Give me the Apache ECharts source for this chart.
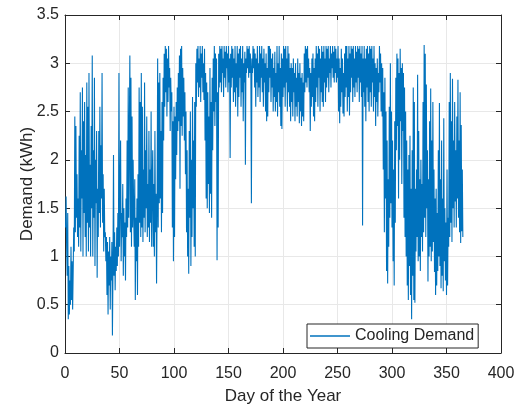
<!DOCTYPE html>
<html>
<head>
<meta charset="utf-8">
<script src="https://cdn.jsdelivr.net/npm/echarts@6/dist/echarts.min.js"></script>
<style>
  html, body { margin: 0; padding: 0; background: #ffffff; }
  #chart { width: 521px; height: 405px; }
</style>
</head>
<body>
<div id="chart"></div>
<script>
// Cooling demand, two samples per day (kWh), starting at day 0.5
const firstDay = 0.5;
const dayStep = 0.5;
const demandKWh = [
  // days 0.5 - 10
  1.30,1.62,1.10,0.80,1.45,0.35,0.90,0.40,0.75,0.50,1.10,0.55,0.95,0.45,0.85,1.30,1.05,2.45,1.25,2.35,
  // days 10.5 - 20
  1.40,1.85,1.20,1.60,1.10,2.25,1.30,2.70,1.05,2.10,1.60,2.75,1.00,2.40,1.45,2.60,1.20,2.05,1.00,2.80,
  // days 20.5 - 30
  1.35,2.55,1.05,2.90,1.30,1.95,1.00,2.35,1.50,3.08,1.00,2.10,1.40,2.85,0.90,2.00,1.55,2.30,0.78,1.70,
  // days 30.5 - 40
  1.20,2.30,1.45,2.55,1.30,2.15,1.60,2.90,1.35,1.85,1.05,1.70,1.20,1.25,0.95,1.20,0.60,1.15,0.40,1.05,
  // days 40.5 - 50
  0.70,1.20,0.45,1.00,0.75,1.15,0.18,0.85,2.05,0.80,1.25,0.65,1.10,0.85,1.30,0.90,1.45,1.00,2.90,1.10,
  // days 50.5 - 60
  1.60,2.20,0.95,1.45,1.20,1.75,0.80,1.50,1.00,1.35,0.75,1.60,1.20,2.20,1.30,2.75,1.40,2.25,3.08,1.25,
  // days 60.5 - 70
  2.85,1.10,2.45,1.30,2.00,1.45,1.10,1.80,0.55,1.40,0.95,1.60,0.60,1.85,1.10,2.75,1.35,2.60,1.20,2.90,
  // days 70.5 - 80
  1.30,2.55,1.15,1.90,1.40,2.80,1.25,2.10,1.50,2.45,1.20,1.75,1.30,2.30,1.15,1.90,1.35,2.50,1.10,1.75,
  // days 80.5 - 90
  2.10,1.10,1.75,1.00,2.30,1.25,1.65,0.72,1.50,3.05,1.30,2.80,1.55,2.90,1.60,2.30,1.25,2.60,1.45,2.85,
  // days 90.5 - 100
  2.20,3.10,2.55,3.18,2.70,3.15,2.45,3.05,2.60,3.18,2.75,2.95,2.30,2.85,2.50,2.70,1.30,2.40,0.95,2.55,
  // days 100.5 - 110
  1.20,2.45,1.80,2.60,2.05,2.75,2.30,2.90,2.40,3.08,1.70,3.15,2.35,3.18,2.25,2.95,2.45,2.85,2.20,2.70,
  // days 110.5 - 120
  1.85,2.50,1.25,2.10,1.00,1.70,0.82,2.30,1.40,2.50,0.90,2.00,1.20,2.65,1.50,2.20,1.10,2.60,1.00,3.00,
  // days 120.5 - 130
  2.55,3.15,2.80,3.18,2.65,3.05,2.75,3.18,2.60,3.10,2.85,3.18,2.70,3.00,2.62,3.15,2.20,2.90,1.60,2.80,
  // days 130.5 - 140
  1.50,2.70,1.75,2.45,1.45,2.95,1.65,2.60,1.40,2.85,2.10,3.05,2.50,3.18,2.35,3.10,2.60,3.05,0.96,2.70,
  // days 140.5 - 150
  1.30,3.10,2.75,3.18,2.80,3.15,2.70,3.18,2.90,3.05,2.65,3.18,2.85,3.12,2.75,3.18,2.95,3.10,2.70,3.18,
  // days 150.5 - 160
  2.80,3.05,2.02,3.10,2.75,3.18,2.85,3.15,2.60,3.05,2.70,3.18,2.55,3.00,2.75,3.18,2.45,3.10,2.65,3.15,
  // days 160.5 - 170
  2.85,3.18,2.55,3.05,2.70,3.18,2.40,3.00,2.80,3.12,1.95,3.05,2.90,3.18,2.95,3.15,2.85,3.18,2.90,3.10,
  // days 170.5 - 180
  2.95,1.55,3.05,2.90,3.18,2.95,3.15,2.75,3.10,2.55,3.05,2.80,3.18,2.65,3.00,2.75,3.18,2.60,3.10,2.85,
  // days 180.5 - 190
  3.18,2.70,3.05,2.55,3.15,2.80,3.00,2.50,3.10,2.40,2.95,2.45,3.18,2.70,3.18,2.85,3.15,2.60,3.05,2.75,
  // days 190.5 - 200
  3.10,2.50,2.95,2.65,3.12,2.50,2.90,2.60,3.18,2.45,3.00,2.70,3.18,2.55,2.95,2.35,3.10,2.32,3.05,2.65,
  // days 200.5 - 210
  3.18,2.75,3.15,2.55,3.18,2.80,3.05,2.50,3.18,2.70,3.10,2.55,2.95,2.40,3.00,2.60,2.95,2.45,3.05,2.70,
  // days 210.5 - 220
  2.90,2.40,3.00,2.55,2.85,2.45,3.05,2.60,2.90,2.38,3.00,2.50,2.85,2.35,2.90,2.45,2.80,2.40,3.10,2.70,
  // days 220.5 - 230
  3.18,2.80,3.15,2.75,3.18,2.85,3.05,2.70,2.95,2.30,2.90,2.55,3.05,2.65,3.10,2.45,2.95,2.40,3.05,2.60,
  // days 230.5 - 240
  3.18,2.75,3.10,2.55,3.18,2.85,3.15,2.50,3.05,2.70,3.18,2.60,3.12,2.55,3.18,2.80,3.05,2.60,3.18,2.75,
  // days 240.5 - 250
  3.15,2.85,3.18,2.70,3.05,2.90,3.18,2.75,3.10,2.95,3.18,2.85,3.12,2.80,3.18,2.90,3.15,2.80,3.05,2.85,
  // days 250.5 - 260
  3.18,2.50,3.05,2.38,2.95,2.55,3.15,2.70,3.05,2.48,2.90,2.45,3.10,2.65,3.18,2.75,3.18,2.50,3.05,2.65,
  // days 260.5 - 270
  3.18,2.46,3.10,2.70,3.18,2.85,3.15,2.60,3.18,2.75,3.05,2.65,3.18,2.80,3.12,2.70,3.18,2.85,3.15,2.60,
  // days 270.5 - 280
  3.18,2.80,3.10,2.65,3.18,1.32,3.05,2.70,3.18,2.55,3.05,2.40,3.15,2.75,3.18,2.60,3.10,2.50,3.18,2.70,
  // days 280.5 - 290
  3.15,2.55,3.18,2.80,3.05,2.50,3.18,2.65,3.00,2.35,2.95,2.60,3.05,2.45,2.90,2.70,3.18,2.80,3.10,2.50,
  // days 290.5 - 300
  3.00,2.45,2.95,1.90,2.70,1.25,2.85,1.60,2.50,0.85,2.20,0.72,1.80,1.10,2.55,1.40,3.00,1.55,2.50,1.30,
  // days 300.5 - 310
  2.20,0.95,1.90,0.70,2.40,1.35,2.85,2.10,3.10,2.35,3.05,1.60,2.90,2.00,3.15,2.40,2.95,1.75,3.00,2.30,
  // days 310.5 - 320
  2.90,1.40,2.75,1.20,2.50,1.00,2.20,0.70,1.90,0.55,2.05,0.90,2.25,0.60,1.70,0.35,2.10,0.80,2.75,0.55,
  // days 320.5 - 330
  2.60,0.52,1.70,1.05,1.90,1.20,2.88,0.95,2.30,1.00,1.80,0.85,2.00,1.20,1.75,1.05,2.60,1.25,3.19,1.40,
  // days 330.5 - 340
  3.10,1.20,2.78,1.50,2.10,0.74,1.80,1.00,2.40,1.10,2.74,0.95,2.20,1.05,2.60,1.15,1.90,0.84,1.60,0.60,
  // days 340.5 - 350
  1.70,0.70,1.45,0.85,2.10,1.00,2.59,0.90,1.80,0.67,2.20,0.80,1.60,0.64,2.43,0.95,1.50,0.75,1.35,0.60,
  // days 350.5 - 360
  1.90,0.70,1.40,1.10,2.60,1.20,2.90,1.35,2.40,1.15,2.84,1.50,2.20,1.30,2.60,1.57,2.10,1.30,2.45,1.60,
  // days 360.5 - 365
  2.83,1.40,2.20,1.25,2.70,1.14,2.36,1.26,1.90,1.20
];

const dayTicks = [0, 50, 100, 150, 200, 250, 300, 350, 400];
const demandTicks = [0, 0.5, 1, 1.5, 2, 2.5, 3, 3.5];

const seriesName = 'Cooling Demand';
const lineColor = '#0072BD';
const axisColor = '#262626';
const gridColor = '#e8e8e8';
const fontFamily = '"Liberation Sans", Arial, Helvetica, sans-serif';

const points = demandKWh.map((v, i) => [firstDay + i * dayStep, v]);

function axisBase(ticks) {
  return {
    type: 'value',
    min: ticks[0],
    max: ticks[ticks.length - 1],
    interval: ticks[1] - ticks[0],
    axisLine: { show: true, onZero: false, lineStyle: { color: axisColor, width: 1 } },
    axisTick: { show: true, inside: true, length: 5, lineStyle: { color: axisColor } }
  };
}

const chart = echarts.init(document.getElementById('chart'), null, { renderer: 'canvas' });
chart.setOption({
  animation: false,
  backgroundColor: '#ffffff',
  grid: { left: 65, right: 20, top: 15, bottom: 52, containLabel: false, outerBoundsMode: 'none' },
  xAxis: [
    Object.assign(axisBase(dayTicks), {
      position: 'bottom',
      name: 'Day of the Year',
      nameLocation: 'middle',
      nameGap: 35,
      nameMoveOverlap: false,
      nameTextStyle: { color: axisColor, fontSize: 17, fontFamily },
      axisLabel: { color: axisColor, fontSize: 16, fontFamily, margin: 13 },
      splitLine: { show: true, lineStyle: { color: gridColor, width: 1 } }
    }),
    Object.assign(axisBase(dayTicks), {
      position: 'top',
      axisLabel: { show: false },
      splitLine: { show: false }
    })
  ],
  yAxis: [
    Object.assign(axisBase(demandTicks), {
      position: 'left',
      name: 'Demand (kWh)',
      nameLocation: 'middle',
      nameGap: 29,
      nameMoveOverlap: false,
      nameTextStyle: { color: axisColor, fontSize: 17, fontFamily },
      axisLabel: { color: axisColor, fontSize: 16, fontFamily, margin: 6 },
      splitLine: { show: true, lineStyle: { color: gridColor, width: 1 } }
    }),
    Object.assign(axisBase(demandTicks), {
      position: 'right',
      axisLabel: { show: false },
      splitLine: { show: false }
    })
  ],
  legend: {
    show: true,
    data: [{
      name: seriesName,
      icon: 'path://M0,0 L40,0 L40,1.3 L0,1.3 Z',
      itemStyle: { color: lineColor, borderWidth: 0 }
    }],
    left: 307,
    top: 324,
    orient: 'horizontal',
    backgroundColor: '#ffffff',
    borderColor: axisColor,
    borderWidth: 1,
    borderRadius: 0,
    padding: [4, 4, 4, 3],
    itemWidth: 40,
    itemHeight: 2,
    itemGap: 5,
    textStyle: { color: axisColor, fontSize: 16, fontFamily }
  },
  series: [
    {
      name: seriesName,
      type: 'line',
      data: points,
      showSymbol: false,
      symbol: 'none',
      smooth: false,
      lineStyle: { color: lineColor, width: 1.1 },
      itemStyle: { color: lineColor },
      z: 3
    }
  ]
});
</script>
</body>
</html>
